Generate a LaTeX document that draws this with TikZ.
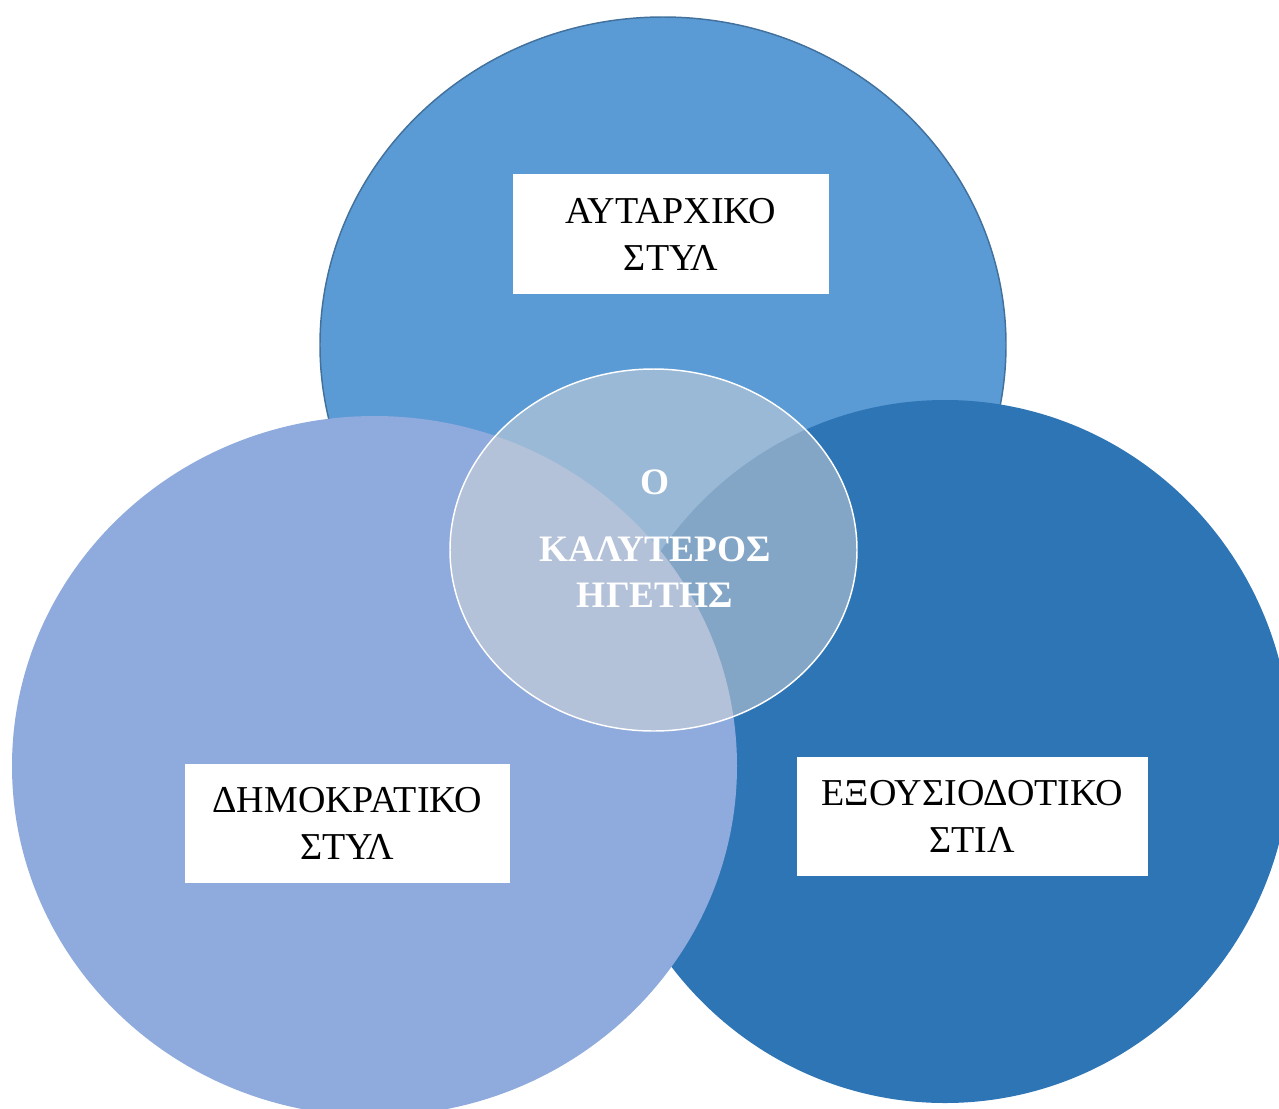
\documentclass[tikz,border=0pt]{standalone}
\usepackage{fontspec}
\setmainfont{Liberation Serif}
\usetikzlibrary{shapes.geometric}

\definecolor{topfill}{HTML}{5B9BD5}
\definecolor{topline}{HTML}{41719C}
\definecolor{leftfill}{HTML}{8FAADC}
\definecolor{rightfill}{HTML}{2E75B6}
\definecolor{corefill}{RGB}{216,216,216}

\tikzset{
  circ/.style={ellipse, inner sep=0pt, outer sep=0pt},
  labelbox/.style={rectangle, fill=white, inner sep=0pt, align=center,
    font=\fontsize{28.5}{35.25}\selectfont},
  coretext/.style={text=white, align=center, inner sep=0pt,
    font=\fontsize{28}{34.5}\selectfont\bfseries}
}

\begin{document}
\begin{tikzpicture}[x=0.75pt, y=-0.75pt]
  \useasboundingbox (0,0) rectangle (1279,1108);
  \clip (0,0) rectangle (1279,1108);

  % three overlapping styles
  \node[circ, fill=topfill, draw=topline, line width=1.1pt,
        minimum width=514.5pt, minimum height=492pt] (autocratic) at (663,345) {};
  \node[circ, fill=rightfill,
        minimum width=519pt, minimum height=527.25pt] (delegative) at (945,751.5) {};
  \node[circ, fill=leftfill,
        minimum width=543.75pt, minimum height=525pt] (democratic) at (374.5,766) {};

  % translucent core
  \node[circ, fill=corefill, fill opacity=0.5, draw=white, line width=1.1pt,
        minimum width=305.25pt, minimum height=271.5pt] (core) at (653.5,550) {};
  \node[coretext] (coretitle) at (655,539) {Ο\\[15.75pt]ΚΑΛΥΤΕΡΟΣ\\ΗΓΕΤΗΣ};

  % labels
  \node[labelbox, minimum width=237pt, minimum height=90pt] (autolabel)
    at (671,234) {ΑΥΤΑΡΧΙΚΟ\\ΣΤΥΛ};
  \node[labelbox, minimum width=244.1pt, minimum height=89.25pt] (demolabel)
    at (347.25,823) {ΔΗΜΟΚΡΑΤΙΚΟ\\ΣΤΥΛ};
  \node[labelbox, minimum width=263.6pt, minimum height=89.25pt] (delelabel)
    at (972.25,816) {ΕΞΟΥΣΙΟΔΟΤΙΚΟ\\ΣΤΙΛ};
\end{tikzpicture}
\end{document}
